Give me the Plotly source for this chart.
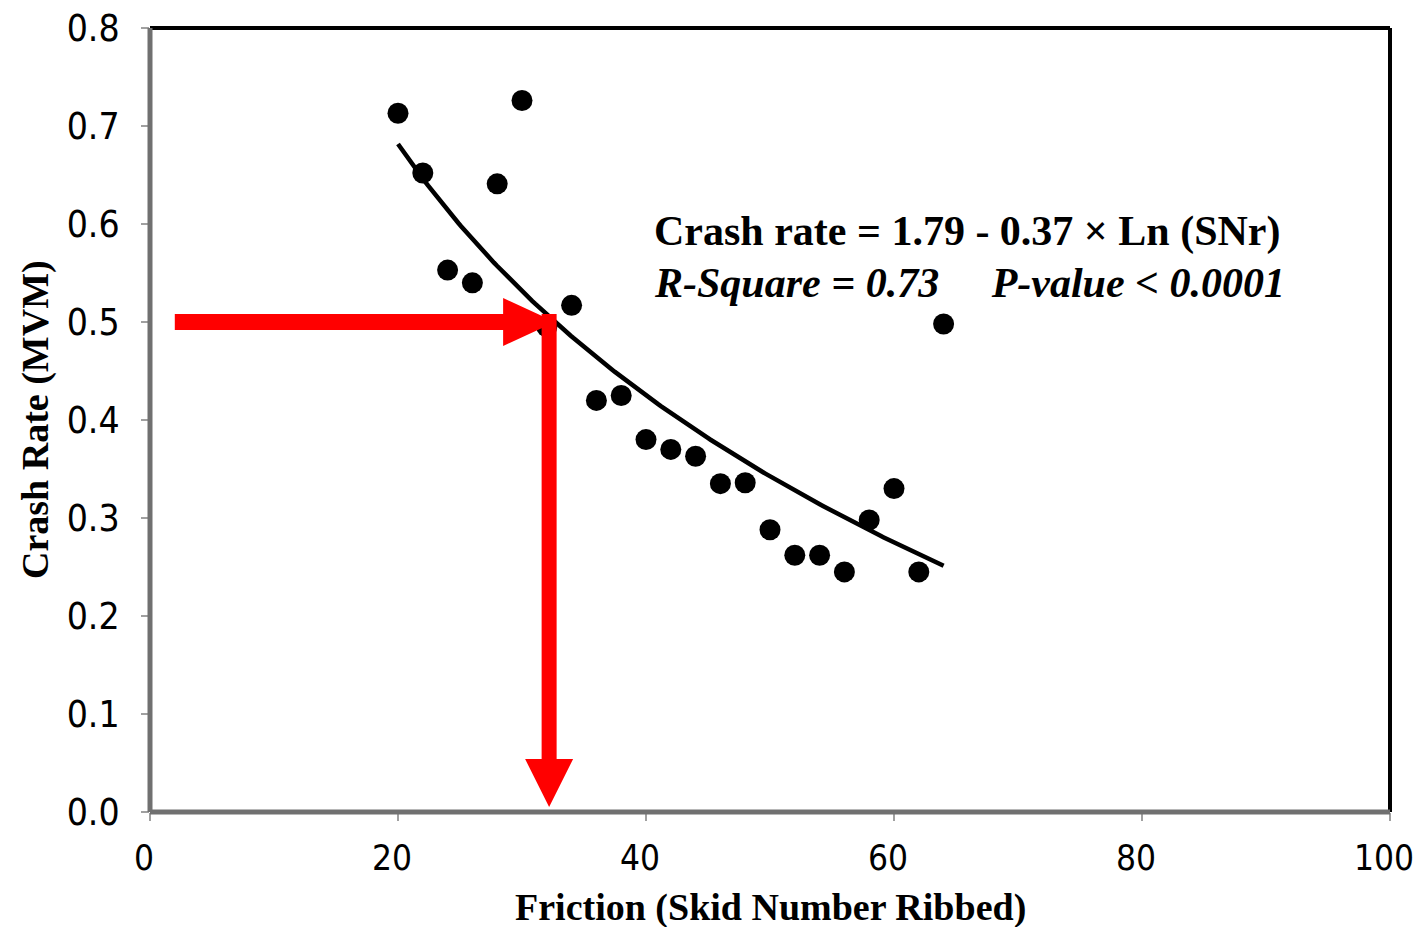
import numpy as np
import plotly.graph_objects as go

# Data
snr = [20, 22, 24, 26, 28, 30, 32, 34, 36, 38, 40, 42, 44, 46, 48, 50, 52, 54, 56, 58, 60, 62, 64]
crash = [0.713, 0.652, 0.553, 0.540, 0.641, 0.726, 0.495, 0.517, 0.420, 0.425, 0.380, 0.370,
         0.363, 0.335, 0.336, 0.288, 0.262, 0.262, 0.245, 0.298, 0.330, 0.245, 0.498]
coef_a, coef_b = 1.79, 0.37
target_rate = 0.5
arrow_start_x = 2
x_ticks = [0, 20, 40, 60, 80, 100]
y_ticks = [0.0, 0.1, 0.2, 0.3, 0.4, 0.5, 0.6, 0.7, 0.8]
x_title = "Friction (Skid Number Ribbed)"
y_title = "Crash Rate (MVM)"

# page body has an 8px margin; compensate
L, R, T, B = 142, 26, 20, 115
W, H = 1408, 919
pw, ph = W - L - R, H - T - B
xr, yr = [0, 100], [0, 0.8]
ux = (xr[1] - xr[0]) / pw   # data units per px
uy = (yr[1] - yr[0]) / ph

fig = go.Figure()

# fitted curve
xf = np.linspace(min(snr), max(snr), 200)
yf = coef_a - coef_b * np.log(xf)

fig.add_trace(go.Scatter(x=snr, y=crash, mode="markers",
                         marker=dict(color="black", size=21), showlegend=False))
fig.add_trace(go.Scatter(x=xf, y=yf, mode="lines",
                         line=dict(color="black", width=4.5), showlegend=False))

# arrows (computed from equation)
xt = float(np.exp((coef_a - target_rate) / coef_b))  # ~32.67
# horizontal arrow
hs = 8 * uy
hh = 24 * uy
hl = 52 * ux
hx = [arrow_start_x, xt - hl, xt - hl, xt, xt - hl, xt - hl, arrow_start_x, arrow_start_x]
hy = [target_rate - hs, target_rate - hs, target_rate - hh, target_rate,
      target_rate + hh, target_rate + hs, target_rate + hs, target_rate - hs]
fig.add_trace(go.Scatter(x=hx, y=hy, mode="lines", fill="toself", fillcolor="#ff0000",
                         line=dict(color="#ff0000", width=0), showlegend=False))
# vertical arrow
vc = xt - 6 * ux
vs = 7.5 * ux
vh = 24 * ux
vl = 48 * uy
tipy = 5 * uy
top = target_rate + hs
vx = [vc - vs, vc + vs, vc + vs, vc + vh, vc, vc - vh, vc - vs, vc - vs]
vy = [top, top, tipy + vl, tipy + vl, tipy, tipy + vl, tipy + vl, top]
fig.add_trace(go.Scatter(x=vx, y=vy, mode="lines", fill="toself", fillcolor="#ff0000",
                         line=dict(color="#ff0000", width=0), showlegend=False))

fam = "Liberation Sans Narrow, DejaVu Sans Condensed, Liberation Sans, sans-serif"
ytickfont = dict(family=fam, size=37, color="black")
xtickfont = dict(family=fam, size=35, color="black")
titlefont = dict(family="Liberation Serif, Times New Roman, serif", size=38, color="black",
                 weight="bold")

fig.update_xaxes(range=xr, tickvals=x_ticks, ticks="outside", ticklen=8, tickwidth=2,
                 tickcolor="#a0a0a0", showgrid=False, zeroline=False, showline=False,
                 tickfont=xtickfont, automargin=False, ticklabeloverflow="allow",
                 ticklabelstandoff=7, ticklabelshift=-6)
fig.update_yaxes(range=yr, tickvals=y_ticks, tickformat=".1f", ticks="outside", ticklen=8,
                 tickwidth=2, tickcolor="#a0a0a0", showgrid=False, zeroline=False,
                 showline=False, tickfont=ytickfont, automargin=False, ticklabelstandoff=14,
                 ticklabeloverflow="allow")

shapes = [
    dict(type="line", xref="paper", yref="paper", x0=0, x1=1, y0=1, y1=1,
         line=dict(color="black", width=4)),
    dict(type="line", xref="paper", yref="paper", x0=1, x1=1, y0=0, y1=1,
         line=dict(color="black", width=4)),
    dict(type="line", xref="paper", yref="paper", x0=0, x1=1, y0=0, y1=0,
         line=dict(color="#707070", width=5)),
    dict(type="line", xref="paper", yref="paper", x0=0, x1=0, y0=0, y1=1,
         line=dict(color="#707070", width=5)),
]

annots = [
    dict(x=0.405, y=0.74, xref="paper", yref="paper", xanchor="left", yanchor="middle",
         showarrow=False,
         text="<b>Crash rate = 1.79 - 0.37 × Ln (SNr)</b>",
         font=dict(family="Liberation Serif, serif", size=42, color="black")),
    dict(x=0.405, y=0.675, xref="paper", yref="paper", xanchor="left", yanchor="middle",
         showarrow=False,
         text="<b><i>R-Square = 0.73     P-value < 0.0001</i></b>",
         font=dict(family="Liberation Serif, serif", size=42, color="black")),
    dict(x=0.5, y=-(900 - 804) / ph, xref="paper", yref="paper", xanchor="center",
         yanchor="middle", showarrow=False, text=x_title, font=titlefont),
    dict(x=-(142 - 27) / pw, y=0.5, xref="paper", yref="paper", xanchor="center",
         yanchor="middle", showarrow=False, text=y_title, textangle=-90, font=titlefont),
]

fig.update_layout(width=W, height=H, margin=dict(l=L, r=R, t=T, b=B),
                  paper_bgcolor="white", plot_bgcolor="white",
                  shapes=shapes, annotations=annots, showlegend=False)

fig.write_html("out.html")
